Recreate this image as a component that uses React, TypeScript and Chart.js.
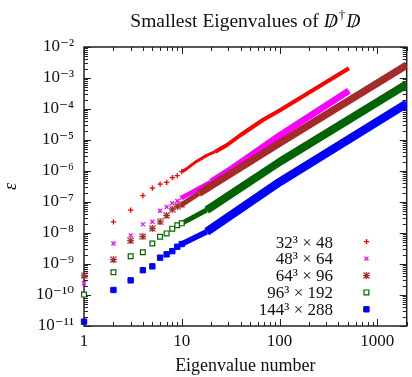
import React, { useEffect, useRef } from 'react';
import { Chart, registerables } from 'chart.js';
import { drawPoint } from 'chart.js/helpers';

Chart.register(...registerables);

// ---------- text ----------
const titleMain = 'Smallest Eigenvalues of ';
const titleOperator = 'D';
const titleDagger = '†';
const xAxisTitle = 'Eigenvalue number';
const yAxisTitle = 'ε';

// ---------- axes ----------
const xMin = 1;
const xMax = 2000;
const yMin = 1e-11;
const yMax = 1e-2;
const xTickLabels = ['1', '10', '100', '1000'];
const yTickExponents = [-11, -10, -9, -8, -7, -6, -5, -4, -3, -2];

// ---------- series ----------
const seriesLabels = ['32³ × 48', '48³ × 64', '64³ × 96', '96³ × 192', '144³ × 288'];
const seriesColors = ['#ff0000', '#ff00ff', '#a52a2a', '#006400', '#0000ff'];

// individually visible lowest eigenvalues (eigenvalue number 1..10)
const lowIndex = [1, 2, 3, 4, 5, 6, 7, 8, 9, 10];
const low32 = [null, 2.3e-8, 5.5e-8, 1.6e-7, 2.8e-7, 3.8e-7, 4.3e-7, 6.1e-7, 7.1e-7, 9.5e-7];
const low48 = [2.4e-10, 4.6e-9, 8.4e-9, 1.9e-8, 2.3e-8, 5.2e-8, 6.9e-8, 9.1e-8, 1.08e-7, 1.38e-7];
const low64 = [4.2e-10, 1.38e-9, 5.7e-9, 7.8e-9, 1.42e-8, 2.3e-8, 3.7e-8, 5.9e-8, 7.4e-8, 8.2e-8];
const low96 = [1.03e-10, 5.4e-10, 1.77e-9, 2.4e-9, 4.6e-9, 7.6e-9, 9.7e-9, 1.38e-8, 1.77e-8, 2.05e-8];
const low144 = [1.38e-11, 1.45e-10, 2.97e-10, 6.3e-10, 8.4e-10, 1.6e-9, 2.05e-9, 2.6e-9, 3.6e-9, 4.4e-9];

// dense part of each spectrum (read along the band of overlapping markers)
const bandIndex32 = [10, 11, 14, 18, 22, 29, 40, 68, 100, 512];
const band32 = [9.5e-7, 1.13e-6, 2.0e-6, 3.2e-6, 4.2e-6, 6.9e-6, 1.45e-5, 4.5e-5, 8.9e-5, 2.06e-3];
const bandIndex48 = [10, 20, 33, 100, 512];
const band48 = [1.38e-7, 4.5e-7, 1.23e-6, 1.4e-5, 3.9e-4];
const bandIndex64 = [10, 15, 100, 2000];
const band64 = [8.2e-8, 1.9e-7, 7.9e-6, 2.6e-3];
const bandIndex96 = [10, 18, 100, 2000];
const band96 = [2.05e-8, 5.5e-8, 1.95e-6, 6.3e-4];
const bandIndex144 = [10, 18, 100, 2000];
const band144 = [4.4e-9, 1.1e-8, 4.4e-7, 1.5e-4];

const lowValues = [low32, low48, low64, low96, low144];
const bandIndices = [bandIndex32, bandIndex48, bandIndex64, bandIndex96, bandIndex144];
const bandValues = [band32, band48, band64, band96, band144];

// ---------- styles ----------
const SERIF = '"Liberation Serif", "DejaVu Serif", serif';
const INK = '#111';
const pointRadii = [2.6, 2.8, 3.2, 3.4, 3.8];
const pointBorderWidths = [1.3, 1.3, 1.2, 1.2, 1];
const pointFills = ['#ff0000', '#ff00ff', '#a52a2a', '#ffffff', '#0000ff'];
const bandStartWidths = [3, 4.5, 5, 5, 5.5];
const bandEndWidths = [4, 6.5, 7.5, 8, 8.5];

function makeStarMarker(color: string) {
  const s = 7;
  const c = document.createElement('canvas');
  c.width = s;
  c.height = s;
  const g = c.getContext('2d')!;
  g.strokeStyle = color;
  g.lineWidth = 1.2;
  g.beginPath();
  g.moveTo(0.5, 0.5); g.lineTo(s - 0.5, s - 0.5);
  g.moveTo(s - 0.5, 0.5); g.lineTo(0.5, s - 0.5);
  g.moveTo(s / 2, 0); g.lineTo(s / 2, s);
  g.moveTo(0, s / 2); g.lineTo(s, s / 2);
  g.stroke();
  return c;
}

const supMap: Record<string, string> = {
  '-': '⁻', '0': '⁰', '1': '¹', '2': '²', '3': '³', '4': '⁴',
  '5': '⁵', '6': '⁶', '7': '⁷', '8': '⁸', '9': '⁹',
};
const toSup = (n: number) => String(n).split('').map((c) => supMap[c] || c).join('');
const isDecade = (v: number) => {
  const e = Math.log10(v);
  return Math.abs(e - Math.round(e)) < 1e-6;
};

function makeDecorPlugin(pointStyles: any[]) {
  return {
    id: 'decor',
    beforeDatasetsDraw(chart: any) {
      const { ctx, chartArea } = chart;
      const { left, right, top, bottom } = chartArea;
      const xs = chart.scales.x;
      const ys = chart.scales.y;
      ctx.save();
      ctx.strokeStyle = '#222';
      ctx.lineWidth = 1;
      ctx.beginPath();
      for (let k = 0; k <= 3; k++) {
        for (let m = 1; m <= 9; m++) {
          const v = m * Math.pow(10, k);
          if (v < xMin || v > xMax) continue;
          const px = Math.round(xs.getPixelForValue(v)) + 0.5;
          const len = m === 1 ? 7 : 4;
          ctx.moveTo(px, bottom);
          ctx.lineTo(px, bottom - len);
          ctx.moveTo(px, top);
          ctx.lineTo(px, top + len);
        }
      }
      for (let k = -11; k <= -2; k++) {
        for (let m = 1; m <= 9; m++) {
          const v = m * Math.pow(10, k);
          if (v < yMin * 0.999 || v > yMax * 1.001) continue;
          const py = Math.round(ys.getPixelForValue(v)) + 0.5;
          const len = m === 1 ? 7 : 4;
          ctx.moveTo(left, py);
          ctx.lineTo(left + len, py);
          ctx.moveTo(right, py);
          ctx.lineTo(right - len, py);
        }
      }
      ctx.stroke();
      ctx.lineWidth = 1.5;
      ctx.strokeRect(left, top, right - left, bottom - top);
      ctx.restore();
    },
    afterDraw(chart: any) {
      const { ctx, chartArea } = chart;
      const { left, right, bottom } = chartArea;
      ctx.save();
      // title
      const big = 19.5;
      const fMain = `${big}px ${SERIF}`;
      const fItal = `italic ${big}px ${SERIF}`;
      const fSup = `13px ${SERIF}`;
      ctx.font = fMain;
      const w1 = ctx.measureText(titleMain).width;
      ctx.font = fItal;
      const wD = ctx.measureText(titleOperator).width;
      ctx.font = fSup;
      const wDag = ctx.measureText(titleDagger).width + 2;
      const total = w1 + wD + wDag + wD;
      let x = (left + right) / 2 - total / 2;
      const base = 26.5;
      ctx.fillStyle = INK;
      ctx.textBaseline = 'alphabetic';
      ctx.textAlign = 'left';
      ctx.font = fMain;
      ctx.fillText(titleMain, x, base);
      x += w1;
      const drawSlashedD = (sx: number) => {
        ctx.font = fItal;
        ctx.fillText(titleOperator, sx, base);
        ctx.font = fMain;
        const ws = ctx.measureText('/').width;
        ctx.fillText('/', sx + wD / 2 - ws / 2 + 1, base + 1);
      };
      drawSlashedD(x);
      x += wD;
      ctx.font = fSup;
      ctx.fillText(titleDagger, x + 1, base - 8);
      x += wDag;
      drawSlashedD(x);

      // legend
      ctx.font = `17px ${SERIF}`;
      ctx.textAlign = 'right';
      for (let i = 0; i < seriesLabels.length; i++) {
        const baseY = bottom - 78.5 + i * 16.9;
        ctx.fillStyle = INK;
        ctx.fillText(seriesLabels[i], right - 73.7, baseY);
        ctx.fillStyle = pointFills[i];
        ctx.strokeStyle = seriesColors[i];
        ctx.lineWidth = pointBorderWidths[i];
        drawPoint(ctx, {
          pointStyle: pointStyles[i],
          radius: pointRadii[i],
          rotation: 0,
          borderWidth: pointBorderWidths[i],
        } as any, right - 40.3, baseY - 5.8);
      }
      ctx.restore();
    },
  };
}

function buildDatasets(pointStyles: any[]) {
  const ds: any[] = [];
  for (let i = 0; i < seriesLabels.length; i++) {
    const lo = bandStartWidths[i];
    const hi = bandEndWidths[i];
    ds.push({
      label: seriesLabels[i],
      data: lowIndex
        .map((x, j) => ({ x, y: lowValues[i][j] }))
        .filter((p) => p.y !== null),
      showLine: false,
      pointStyle: pointStyles[i],
      pointRadius: pointRadii[i],
      pointBorderWidth: pointBorderWidths[i],
      pointBorderColor: seriesColors[i],
      pointBackgroundColor: pointFills[i],
      clip: false,
      order: 20 - 2 * i,
    });
    ds.push({
      label: '',
      data: bandIndices[i].map((x, j) => ({ x, y: bandValues[i][j] })),
      showLine: true,
      borderColor: seriesColors[i],
      backgroundColor: seriesColors[i],
      borderWidth: hi,
      borderCapStyle: 'butt',
      borderJoinStyle: 'round',
      pointRadius: 0,
      fill: false,
      tension: 0,
      order: 21 - 2 * i,
      segment: {
        borderWidth: (c: any) => (c.p1.parsed.x <= 22 ? lo : hi),
      },
    });
  }
  return ds;
}

export default function App() {
  const ref = useRef<HTMLCanvasElement>(null);
  useEffect(() => {
    if (!ref.current) return;
    const pointStyles: any[] = ['cross', 'crossRot', makeStarMarker('#a52a2a'), 'rect', 'rect'];
    const chart = new Chart(ref.current, {
      type: 'scatter',
      data: { datasets: buildDatasets(pointStyles) },
      options: {
        responsive: false,
        animation: false,
        devicePixelRatio: 1,
        layout: { padding: { left: 0, top: 47, right: 1, bottom: 0 } },
        plugins: {
          legend: { display: false },
          tooltip: { enabled: false },
          title: { display: false },
        },
        scales: {
          x: {
            type: 'logarithmic',
            min: xMin,
            max: xMax,
            position: 'bottom',
            grid: { display: false, drawTicks: false },
            border: { display: false },
            ticks: {
              autoSkip: false,
              maxRotation: 0,
              padding: 5,
              color: INK,
              font: { family: SERIF, size: 17 },
              callback: (v: any) => {
                const s = String(Math.round(Number(v)));
                return isDecade(Number(v)) && xTickLabels.includes(s) ? s : '';
              },
            },
            title: {
              display: true,
              text: xAxisTitle,
              color: INK,
              font: { family: SERIF, size: 18 },
              padding: { top: 0, bottom: 0 },
            },
            afterFit: (s: any) => {
              s.height = 51;
            },
          },
          y: {
            type: 'logarithmic',
            min: yMin,
            max: yMax,
            position: 'left',
            grid: { display: false, drawTicks: false },
            border: { display: false },
            ticks: {
              autoSkip: false,
              padding: 10,
              color: INK,
              font: { family: SERIF, size: 17 },
              callback: (v: any) => {
                const n = Number(v);
                if (!isDecade(n)) return '';
                const e = Math.round(Math.log10(n));
                return yTickExponents.includes(e) ? '10' + toSup(e) : '';
              },
            },
            title: {
              display: true,
              text: yAxisTitle,
              color: INK,
              font: { family: SERIF, size: 18, style: 'italic' },
              padding: { top: 0, bottom: 0 },
            },
            afterFit: (s: any) => {
              s.width = 84;
            },
          },
        },
      } as any,
      plugins: [makeDecorPlugin(pointStyles)],
    });
    return () => chart.destroy();
  }, []);
  return (
    <div style={{ position: 'fixed', left: 0, top: 0, width: 412, height: 377, background: '#fff' }}>
      <canvas ref={ref} width={412} height={377} style={{ display: 'block', width: 412, height: 377 }} />
    </div>
  );
}
